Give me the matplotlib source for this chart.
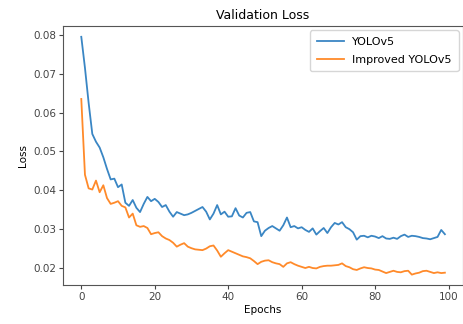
import numpy as np
import matplotlib
matplotlib.use("Agg")
import matplotlib.pyplot as plt

# Validation loss per epoch
epochs = list(range(100))

yolov5 = [
    0.0795, 0.0715, 0.0625, 0.0545, 0.0525, 0.0510, 0.0485, 0.0455, 0.0428, 0.0430,
    0.0408, 0.0415, 0.0368, 0.0360, 0.0375, 0.0355, 0.0344, 0.0365, 0.0383, 0.0372,
    0.0378, 0.0370, 0.0357, 0.0362, 0.0345, 0.0332, 0.0344, 0.0340, 0.0336, 0.0338,
    0.0342, 0.0347, 0.0352, 0.0357, 0.0345, 0.0325, 0.0340, 0.0362, 0.0338, 0.0345,
    0.0332, 0.0333, 0.0354, 0.0335, 0.0330, 0.0342, 0.0344, 0.0320, 0.0318, 0.0282,
    0.0296, 0.0303, 0.0308, 0.0302, 0.0296, 0.0310, 0.0330, 0.0305, 0.0308, 0.0302,
    0.0305, 0.0298, 0.0293, 0.0302, 0.0286, 0.0295, 0.0303, 0.0290, 0.0305, 0.0316,
    0.0312, 0.0318, 0.0305, 0.0300, 0.0292, 0.0273, 0.0282, 0.0283, 0.0279, 0.0283,
    0.0281, 0.0277, 0.0282, 0.0276, 0.0275, 0.0278, 0.0275, 0.0282, 0.0286, 0.0280,
    0.0283, 0.0282, 0.0280, 0.0277, 0.0276, 0.0274, 0.0277, 0.0280, 0.0298, 0.0287,
]

improved = [
    0.0635, 0.0440, 0.0405, 0.0402, 0.0425, 0.0395, 0.0413, 0.0380, 0.0365, 0.0368,
    0.0372, 0.0360, 0.0356, 0.0330, 0.0340, 0.0310, 0.0306, 0.0308, 0.0303, 0.0287,
    0.0290, 0.0292, 0.0282, 0.0276, 0.0272, 0.0265, 0.0255, 0.0260, 0.0264, 0.0255,
    0.0251, 0.0248, 0.0247, 0.0246, 0.0250, 0.0256, 0.0258, 0.0245, 0.0229, 0.0238,
    0.0246, 0.0242, 0.0238, 0.0234, 0.0230, 0.0228, 0.0225, 0.0218, 0.0210, 0.0216,
    0.0219, 0.0220, 0.0215, 0.0212, 0.0210, 0.0203, 0.0212, 0.0215, 0.0210, 0.0206,
    0.0203, 0.0200, 0.0203, 0.0200, 0.0199, 0.0203, 0.0205, 0.0206, 0.0206, 0.0207,
    0.0208, 0.0212, 0.0205, 0.0202, 0.0197, 0.0195, 0.0199, 0.0202, 0.0200, 0.0199,
    0.0196, 0.0195, 0.0191, 0.0187, 0.0190, 0.0193, 0.0190, 0.0189, 0.0192, 0.0193,
    0.0183, 0.0186, 0.0188, 0.0192, 0.0193, 0.0190, 0.0187, 0.0189, 0.0187, 0.0188,
]

plt.rcParams['font.family'] = ['DejaVu Sans']
plt.rcParams['font.size'] = 7.5

fig = plt.figure(figsize=(4.64, 3.24), dpi=100)
ax = fig.add_axes([0.136, 0.120, 0.862, 0.800])

ax.plot(epochs, yolov5, color='#3a86c4', lw=1.3, label='YOLOv5')
ax.plot(epochs, improved, color='#ff8a2a', lw=1.3, label='Improved YOLOv5')

ax.set_title('Validation Loss', fontsize=9, pad=5)
ax.set_xlabel('Epochs', labelpad=2)
ax.set_ylabel('Loss', labelpad=4)
ax.set_xticks([0, 20, 40, 60, 80, 100])
ax.set_yticks([0.02, 0.03, 0.04, 0.05, 0.06, 0.07, 0.08])
ax.set_ylim(0.0156, 0.0823)
ax.tick_params(length=3, width=0.8, pad=2, colors='#444444')
for s in ax.spines.values():
    s.set_color('#555555')
ax.legend(loc='upper right', fontsize=8, handlelength=2.4, labelspacing=0.7,
          borderpad=0.6, borderaxespad=0.4)

fig.savefig('out.png', dpi=100)
